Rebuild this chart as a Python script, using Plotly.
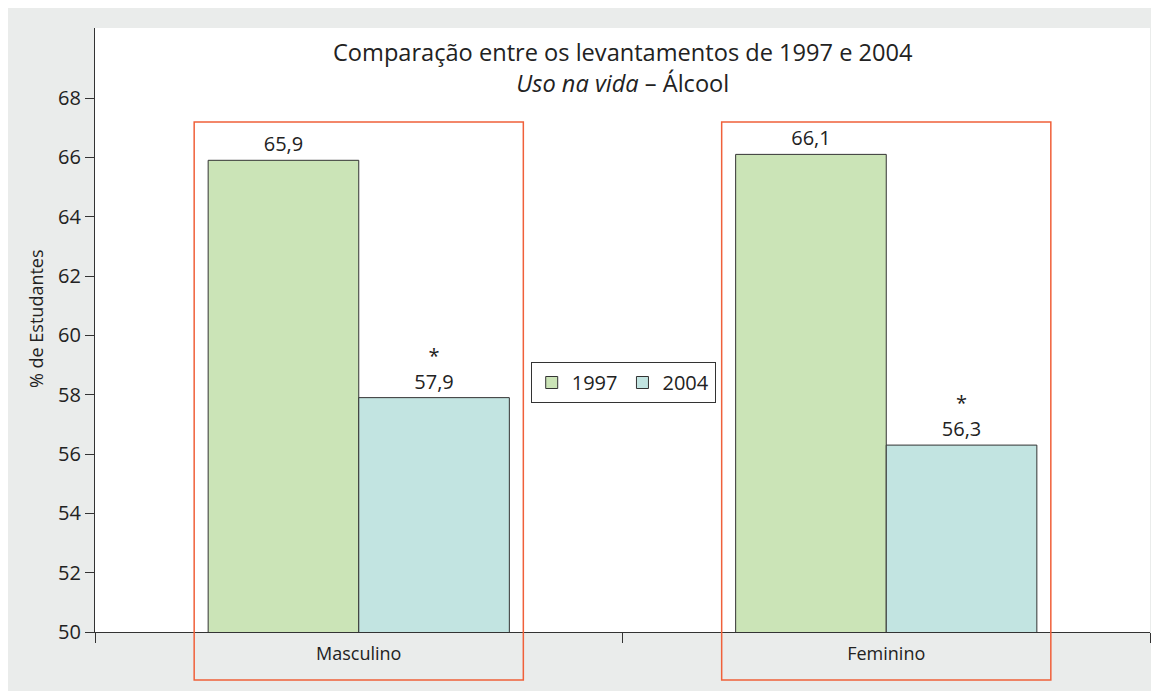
import plotly.graph_objects as go

categories = ["Masculino", "Feminino"]
years = ["1997", "2004"]
values_1997 = [65.9, 66.1]
values_2004 = [57.9, 56.3]
flag_2004 = ["*", "*"]
y_ticks = [50, 52, 54, 56, 58, 60, 62, 64, 66, 68]

colors = {"1997": "#cbe4b7", "2004": "#c2e4e1"}
FONT = "Open Sans"
TXT = "#222222"

def fmt(v):
    return f"{v:.1f}".replace(".", ",")

fig = go.Figure()
fig.add_trace(go.Bar(
    name=years[0], x=categories, y=values_1997,
    marker=dict(color=colors["1997"], line=dict(color="#333333", width=1)),
    text=[fmt(v) for v in values_1997], textposition="outside",
    textfont=dict(size=20, color=TXT, family=FONT), cliponaxis=False,
))
fig.add_trace(go.Bar(
    name=years[1], x=categories, y=values_2004,
    marker=dict(color=colors["2004"], line=dict(color="#333333", width=1)),
    text=[f"{f}<br>{fmt(v)}" for f, v in zip(flag_2004, values_2004)], textposition="outside",
    textfont=dict(size=20, color=TXT, family=FONT), cliponaxis=False,
))

# orange boxes around each group
shapes = []
for i, _ in enumerate(categories):
    shapes.append(dict(type="rect", xref="x", yref="paper",
                       x0=i - 0.312, x1=i + 0.312, y0=-0.0795, y1=0.8444,
                       line=dict(color="#f0603a", width=1.5), fillcolor="rgba(0,0,0,0)", layer="above"))

fig.update_layout(
    width=1159, height=691,
    margin=dict(l=87, r=17, t=20, b=67),
    paper_bgcolor="#eaeceb", plot_bgcolor="white",
    font=dict(family=FONT, color=TXT, size=17),
    barmode="group", bargap=0.429, bargroupgap=0,
    separators=",.",
    shapes=shapes,
    showlegend=True,
    legend=dict(x=0.413, y=0.447, xanchor="left", yanchor="top", orientation="h",
                bordercolor="#333333", borderwidth=1, bgcolor="white",
                font=dict(size=20, family=FONT, color=TXT), itemwidth=30,
                traceorder="normal"),
    annotations=[
        dict(text="Comparação entre os levantamentos de 1997 e 2004<br><i>Uso na vida</i> – Álcool",
             xref="paper", yref="paper", x=0.5, y=(632 - 67.5) / 604, xanchor="center", yanchor="middle",
             showarrow=False, font=dict(size=23.6, family=FONT, color=TXT), align="center"),
        dict(text="% de Estudantes", xref="paper", yref="paper", x=(36 - 95) / 1055, y=(632 - 319) / 604,
             xanchor="center", yanchor="middle", textangle=-90, showarrow=False,
             font=dict(size=18, family=FONT, color=TXT)),
    ],
)
fig.update_xaxes(
    showline=True, linecolor="#333333", linewidth=1.2,
    ticks="outside", ticklen=10, tickcolor="#333333", tickson="boundaries",
    ticklabelstandoff=5,
    range=[-0.5, 1.5], tickfont=dict(size=18, family=FONT, color=TXT),
)
fig.update_yaxes(
    range=[50, 70.36], tickvals=y_ticks, ticktext=[str(t) for t in y_ticks],
    showline=True, linecolor="#333333", linewidth=1.2, showgrid=False, zeroline=False,
    ticks="outside", ticklen=9, tickcolor="#333333",
    tickfont=dict(size=20, family=FONT, color=TXT),
)

fig.write_html("out.html")
